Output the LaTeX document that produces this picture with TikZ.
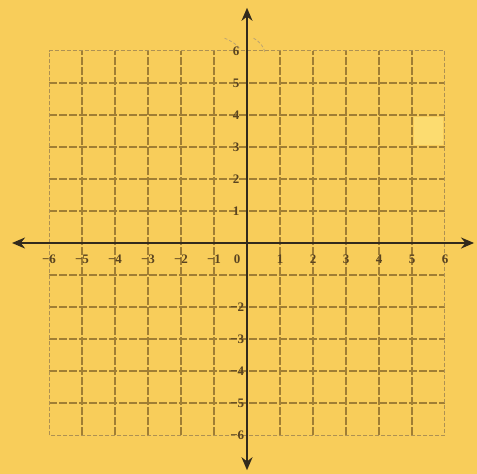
\documentclass[tikz,border=0pt]{standalone}
\usepackage{fontspec}
\setmainfont{Liberation Serif}
\usetikzlibrary{arrows.meta}
\definecolor{bg}{RGB}{248,205,90}
\definecolor{gridc}{RGB}{160,126,52}
\definecolor{axisc}{RGB}{50,42,28}
\definecolor{labc}{RGB}{90,68,32}
\definecolor{lightsq}{RGB}{252,220,112}
\tikzset{
  gridline/.style={draw=gridc, line width=2pt, dash pattern=on 8pt off 2pt},
  border/.style={draw=gridc!85, line width=1pt, dash pattern=on 4pt off 2pt},
  axisline/.style={draw=axisc, line width=2pt, {Stealth[length=13pt,width=11pt]}-{Stealth[length=13pt,width=11pt]}},
  lab/.style={text=labc, font=\bfseries\fontsize{13}{14}\selectfont, inner sep=0pt},
  sketch/.style={draw=gridc!70, line width=0.8pt, dash pattern=on 3pt off 2pt}
}
\begin{document}
\begin{tikzpicture}[x=1pt,y=-1pt]
\fill[bg] (0,0) rectangle (477,474);
\useasboundingbox (0,0) rectangle (477,474);
\begin{scope}[xshift=247pt, yshift=-243pt, x=33pt, y=32pt]
  \fill[lightsq] (5.05,3.05) rectangle (5.95,3.95);
  \foreach \i in {-5,-4,-3,-2,-1,1,2,3,4,5} {
    \draw[gridline] (\i,-6) -- (\i,6);
    \draw[gridline] (-6,\i) -- (6,\i);
  }
  \draw[border] (-5.985,-6.015) rectangle (5.985,6.015);
  \coordinate (xl) at (-7.12,0);
  \coordinate (xr) at (6.88,0);
  \coordinate (yt) at (0,7.35);
  \coordinate (yb) at (0,-7.1);
  \draw[axisline] (xl) -- (xr);
  \draw[axisline] (yb) -- (yt);
  \draw[sketch] (-0.68,6.4) .. controls (-0.45,6.3) and (-0.3,6.2) .. (-0.2,6.05);
  \draw[sketch] (0.2,6.4) .. controls (0.38,6.3) and (0.5,6.15) .. (0.55,5.95);
  \foreach \i in {1,...,6} {
    \node[lab] at (-\i,-0.5) {−\i};
    \node[lab] at (\i,-0.5) {\i};
    \node[lab] at (-0.33,\i) {\i};
  }
  \node[lab] at (-0.3,-0.5) {0};
  \foreach \i in {2,...,6} \node[lab, anchor=east] at (-0.08,-\i) {−\i};
\end{scope}
\end{tikzpicture}
\end{document}
